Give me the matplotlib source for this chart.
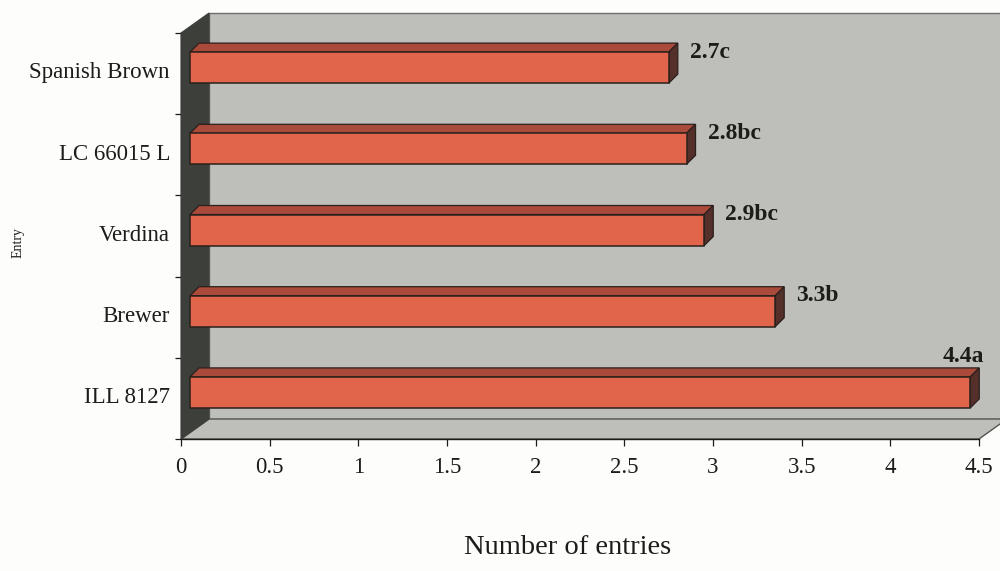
import matplotlib
matplotlib.use("Agg")
import matplotlib.pyplot as plt
from matplotlib.patches import Polygon

# ---- data -------------------------------------------------------------
entries = ["ILL 8127", "Brewer", "Verdina", "LC 66015 L", "Spanish Brown"]
values = [4.4, 3.3, 2.9, 2.8, 2.7]
value_labels = ["4.4a", "3.3b", "2.9bc", "2.8bc", "2.7c"]
x_ticks = [0, 0.5, 1, 1.5, 2, 2.5, 3, 3.5, 4, 4.5]
x_tick_labels = ["0", "0.5", "1", "1.5", "2", "2.5", "3", "3.5", "4", "4.5"]

# ---- styling ------------------------------------------------------------
plt.rcParams["font.family"] = ["Liberation Serif", "DejaVu Serif"]
BG = "#fdfdfb"
WALL = "#bebebb"
SIDE = "#3d3f3a"
FRONT = "#e0654b"
TOP = "#a94a3b"
END = "#55302a"
EDGE = "#2a201c"
INK = "#1c1c18"

fig = plt.figure(figsize=(10, 5.71), dpi=100, facecolor=BG)
W, H = 1000, 571
left_px, right_px, bottom_px, top_px = 181, 979, 439, 33
ax = fig.add_axes([left_px / W, 1 - bottom_px / H,
                   (right_px - left_px) / W, (bottom_px - top_px) / H])
ax.set_facecolor("none")
XMAX, YMAX = 4.5, 5
ax.set_xlim(0, XMAX)
ax.set_ylim(0, YMAX)

# pixel -> data scale factors for the oblique depth offsets
sx = XMAX / (right_px - left_px)
sy = YMAX / (bottom_px - top_px)
wall_dx, wall_dy = 28 * sx, 20 * sy        # full depth of the box
bar_sx, bar_sy = 9 * sx, 6 * sy            # bar front plane shift
bar_dx, bar_dy = 9 * sx, 9 * sy            # bar depth
bar_h = 31 * sy                            # bar thickness

def poly(pts, fc, z, ec=EDGE, lw=0.9):
    ax.add_patch(Polygon(pts, closed=True, facecolor=fc, edgecolor=ec,
                         linewidth=lw, zorder=z, clip_on=False))

# back wall
poly([(wall_dx, wall_dy), (XMAX + wall_dx, wall_dy),
      (XMAX + wall_dx, YMAX + wall_dy), (wall_dx, YMAX + wall_dy)],
     WALL, 0, ec="#6e6e6a", lw=1.0)
# floor
poly([(0, 0), (XMAX, 0), (XMAX + wall_dx, wall_dy), (wall_dx, wall_dy)],
     WALL, 0.5, ec="#55554f", lw=1.0)
# left side wall
poly([(0, 0), (wall_dx, wall_dy), (wall_dx, YMAX + wall_dy), (0, YMAX)],
     SIDE, 0.6, ec=SIDE, lw=0.8)

# bars
centers = [i + 0.5 for i in range(len(entries))]
yc = [c + bar_sy for c in centers]
ax.barh(yc, values, height=bar_h, left=bar_sx, color=FRONT,
        edgecolor=EDGE, linewidth=1.1, zorder=3)
for y, v, lab in zip(yc, values, value_labels):
    x0, x1 = bar_sx, bar_sx + v
    top, bot = y + bar_h / 2, y - bar_h / 2
    poly([(x0, top), (x1, top), (x1 + bar_dx, top + bar_dy),
          (x0 + bar_dx, top + bar_dy)], TOP, 2.5)
    poly([(x1, bot), (x1, top), (x1 + bar_dx, top + bar_dy),
          (x1 + bar_dx, bot + bar_dy)], END, 2.6)
    if x1 + bar_dx + 0.35 > XMAX:
        ax.text(x1 + bar_dx + 5 * sx, top + bar_dy + 1 * sy, lab,
                ha="right", va="bottom", fontsize=17, fontweight="bold",
                color=INK, zorder=5, clip_on=False)
    else:
        ax.text(x1 + bar_dx + 12 * sx, top, lab, ha="left", va="center",
                fontsize=17, fontweight="bold", color=INK, zorder=5)

# axes and ticks
for s in ["top", "right"]:
    ax.spines[s].set_visible(False)
ax.spines["bottom"].set_color(INK)
ax.spines["bottom"].set_linewidth(1.0)
ax.spines["left"].set_color(SIDE)
ax.spines["bottom"].set_zorder(4)

ax.set_xticks(x_ticks)
ax.set_xticklabels(x_tick_labels)
ax.tick_params(axis="x", direction="out", length=5, width=0.9,
               color=INK, labelsize=16.5, labelcolor=INK, pad=8)
ax.set_yticks(range(len(entries) + 1))
ax.set_yticklabels([])
ax.tick_params(axis="y", which="major", direction="out", length=4.5,
               width=0.9, color=INK)
ax.set_yticks([c + 0.04 for c in centers], minor=True)
ax.set_yticklabels(entries, minor=True)
ax.tick_params(axis="y", which="minor", length=0, pad=8,
               labelsize=16.5, labelcolor=INK)

ax.set_xlabel("Number of entries", fontsize=20.5, color=INK)
ax.xaxis.set_label_coords((568 - left_px) / (right_px - left_px),
                          (bottom_px - 548) / (bottom_px - top_px))
ax.xaxis.label.set_va("center")
ax.set_ylabel("Entry", fontsize=10, color=INK)
ax.yaxis.set_label_coords((18 - left_px) / (right_px - left_px),
                          (bottom_px - 243) / (bottom_px - top_px))
ax.yaxis.label.set_va("center")

fig.savefig("out.png", dpi=100, facecolor=BG)
